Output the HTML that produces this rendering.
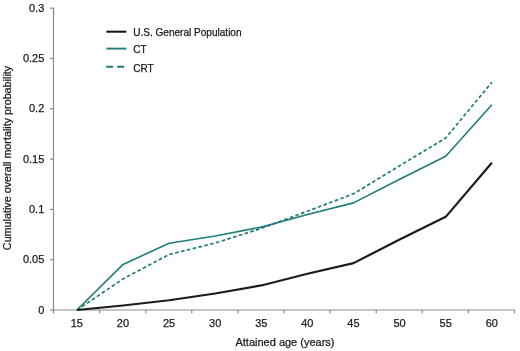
<!DOCTYPE html>
<html><head><meta charset="utf-8"><style>
html,body{margin:0;padding:0;background:#fff;}
body{width:520px;height:351px;overflow:hidden;position:relative;}
svg{position:absolute;left:0;top:0;will-change:transform;}
text{font-family:"Liberation Sans",sans-serif;font-size:11px;fill:#1a1a1a;stroke:#1a1a1a;stroke-width:0.25px;}
</style></head><body>
<svg width="520" height="351" viewBox="0 0 520 351">
<line x1="53.5" y1="7.70" x2="53.5" y2="313.3" stroke="#8a8a8a" stroke-width="1.2"/>
<line x1="52.9" y1="310.0" x2="515.1" y2="310.0" stroke="#8a8a8a" stroke-width="1.2"/>
<line x1="50" y1="310.00" x2="53.5" y2="310.00" stroke="#8a8a8a" stroke-width="1.2"/>
<text x="44.3" y="313.50" text-anchor="end">0</text>
<line x1="50" y1="259.70" x2="53.5" y2="259.70" stroke="#8a8a8a" stroke-width="1.2"/>
<text x="44.3" y="263.20" text-anchor="end">0.05</text>
<line x1="50" y1="209.40" x2="53.5" y2="209.40" stroke="#8a8a8a" stroke-width="1.2"/>
<text x="44.3" y="212.90" text-anchor="end">0.1</text>
<line x1="50" y1="159.10" x2="53.5" y2="159.10" stroke="#8a8a8a" stroke-width="1.2"/>
<text x="44.3" y="162.60" text-anchor="end">0.15</text>
<line x1="50" y1="108.80" x2="53.5" y2="108.80" stroke="#8a8a8a" stroke-width="1.2"/>
<text x="44.3" y="112.30" text-anchor="end">0.2</text>
<line x1="50" y1="58.50" x2="53.5" y2="58.50" stroke="#8a8a8a" stroke-width="1.2"/>
<text x="44.3" y="62.00" text-anchor="end">0.25</text>
<line x1="50" y1="8.20" x2="53.5" y2="8.20" stroke="#8a8a8a" stroke-width="1.2"/>
<text x="44.3" y="11.70" text-anchor="end">0.3</text>
<line x1="53.50" y1="310.0" x2="53.50" y2="313.3" stroke="#8a8a8a" stroke-width="1.2"/>
<line x1="99.60" y1="310.0" x2="99.60" y2="313.3" stroke="#8a8a8a" stroke-width="1.2"/>
<line x1="145.70" y1="310.0" x2="145.70" y2="313.3" stroke="#8a8a8a" stroke-width="1.2"/>
<line x1="191.80" y1="310.0" x2="191.80" y2="313.3" stroke="#8a8a8a" stroke-width="1.2"/>
<line x1="237.90" y1="310.0" x2="237.90" y2="313.3" stroke="#8a8a8a" stroke-width="1.2"/>
<line x1="284.00" y1="310.0" x2="284.00" y2="313.3" stroke="#8a8a8a" stroke-width="1.2"/>
<line x1="330.10" y1="310.0" x2="330.10" y2="313.3" stroke="#8a8a8a" stroke-width="1.2"/>
<line x1="376.20" y1="310.0" x2="376.20" y2="313.3" stroke="#8a8a8a" stroke-width="1.2"/>
<line x1="422.30" y1="310.0" x2="422.30" y2="313.3" stroke="#8a8a8a" stroke-width="1.2"/>
<line x1="468.40" y1="310.0" x2="468.40" y2="313.3" stroke="#8a8a8a" stroke-width="1.2"/>
<line x1="514.50" y1="310.0" x2="514.50" y2="313.3" stroke="#8a8a8a" stroke-width="1.2"/>
<text x="76.85" y="326.8" text-anchor="middle">15</text>
<text x="122.95" y="326.8" text-anchor="middle">20</text>
<text x="169.05" y="326.8" text-anchor="middle">25</text>
<text x="215.15" y="326.8" text-anchor="middle">30</text>
<text x="261.25" y="326.8" text-anchor="middle">35</text>
<text x="307.35" y="326.8" text-anchor="middle">40</text>
<text x="353.45" y="326.8" text-anchor="middle">45</text>
<text x="399.55" y="326.8" text-anchor="middle">50</text>
<text x="445.65" y="326.8" text-anchor="middle">55</text>
<text x="491.75" y="326.8" text-anchor="middle">60</text>
<polyline points="76.95,310.00 123.05,278.91 169.15,254.47 215.25,243.00 261.35,228.41 307.45,211.21 353.55,193.81 399.65,165.74 445.75,137.97 491.85,82.24" fill="none" stroke="#1f7c78" stroke-width="1.7" stroke-dasharray="3.6 2.4"/>
<polyline points="76.95,310.00 123.05,264.43 169.15,243.20 215.25,236.06 261.35,227.11 307.45,214.43 353.55,202.86 399.65,179.22 445.75,156.28 491.85,104.78" fill="none" stroke="#1f7c78" stroke-width="1.6" stroke-linejoin="round"/>
<polyline points="76.95,310.00 123.05,305.47 169.15,300.24 215.25,293.50 261.35,285.45 307.45,273.78 353.55,263.12 399.65,239.58 445.75,216.84 491.85,162.82" fill="none" stroke="#1c1c1c" stroke-width="2.2" stroke-linejoin="round"/>
<line x1="106.4" y1="31.7" x2="126.4" y2="31.7" stroke="#111" stroke-width="2"/>
<line x1="106.4" y1="48.6" x2="126.4" y2="48.6" stroke="#1f7c78" stroke-width="1.9"/>
<line x1="106.2" y1="66.7" x2="124.2" y2="66.7" stroke="#1f7c78" stroke-width="2" stroke-dasharray="7 4"/>
<text x="133.2" y="35.6" style="font-size:10.05px">U.S. General Population</text>
<text x="133.2" y="52.8" style="font-size:10.05px">CT</text>
<text x="133.2" y="71.7" style="font-size:10.05px">CRT</text>
<text x="285" y="345.6" text-anchor="middle">Attained age (years)</text>
<text transform="translate(10.6,158) rotate(-90)" text-anchor="middle" style="font-size:10.78px">Cumulative overall mortality probability</text>
</svg>
</body></html>
